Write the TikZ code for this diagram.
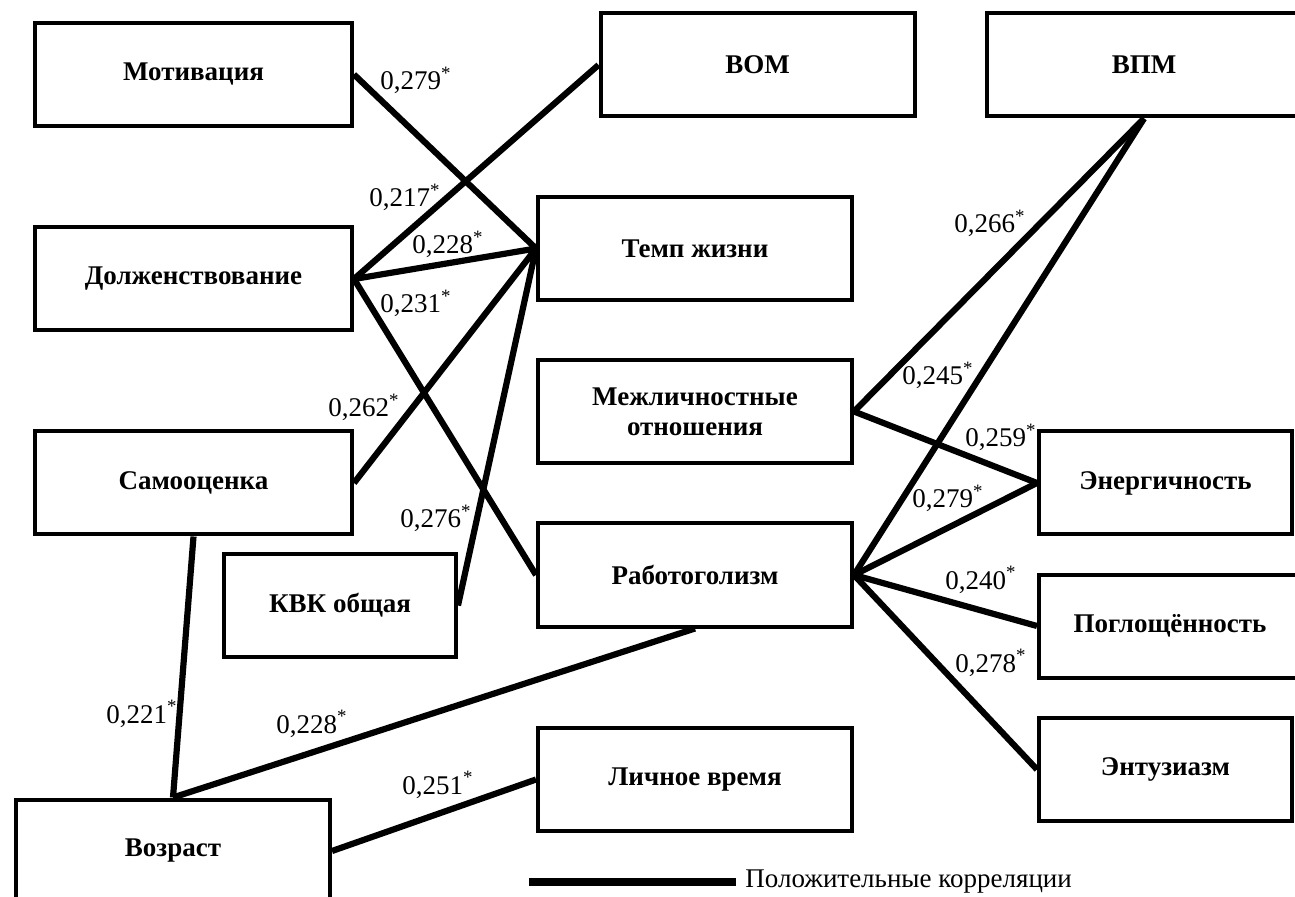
\documentclass[tikz,border=0pt]{standalone}
\usepackage{fontspec}
\setmainfont{Liberation Serif}

\tikzset{
  factor/.style={draw, line width=2pt, minimum width=157pt, minimum height=51.5pt,
                 align=center, inner sep=2pt, font=\fontsize{13.5}{15}\selectfont\bfseries},
  corr/.style={line width=3.1pt},
  coef/.style={anchor=base west, inner sep=0pt, font=\fontsize{13.5}{15}\selectfont}
}
\newcommand{\coefval}[1]{#1\textsuperscript{*}}

\begin{document}
\begin{tikzpicture}[x=0.5pt, y=-0.5pt]
        \clip (0, 0) rectangle (1295, 897);

        % Left column of factors
        \node[factor, minimum width=158.5pt] (mot) at (193.5, 74.5) {Мотивация};
        \node[factor, minimum width=158.5pt] (dolzh) at (193.5, 279) {Долженствование};
        \node[factor, minimum width=158.5pt] (samo) at (193.5, 483) {Самооценка};
        \node[factor, minimum width=116pt] (kvk) at (340, 605.5) {КВК общая};
        \node[factor] (vozr) at (173, 851) {Возраст};

        % Middle column
        \node[factor] (vom) at (757.5, 65) {ВОМ};
        \node[factor] (temp) at (695, 248.5) {Темп жизни};
        \node[factor] (mezh) at (695, 411.5) {Межличностные\\отношения};
        \node[factor] (rabot) at (695, 575) {Работоголизм};
        \node[factor] (lich) at (695, 779.5) {Личное время};

        % Right column
        \node[factor] (vpm) at (1144, 65) {ВПМ};
        \node[factor, minimum width=126.5pt] (energ) at (1165.5, 483) {Энергичность};
        \node[factor, minimum width=131pt] (pogl) at (1170, 626) {Поглощённость};
        \node[factor, minimum width=126.5pt] (entuz) at (1165.5, 769.5) {Энтузиазм};

        % Positive correlations
        \draw[corr] (mot.east) -- (temp.west);
        \draw[corr] (dolzh.east) -- (vom.west);
        \draw[corr] (dolzh.east) -- (temp.west);
        \draw[corr] (dolzh.east) -- (rabot.west);
        \draw[corr] (samo.east) -- (temp.west);
        \draw[corr] (kvk.east) -- (temp.west);
        \draw[corr] (samo.south) -- (vozr.north);
        \draw[corr] (vozr.north) -- (rabot.south);
        \draw[corr] (vozr.east) -- (lich.west);
        \draw[corr] (vpm.south) -- (mezh.east);
        \draw[corr] (vpm.south) -- (rabot.east);
        \draw[corr] (mezh.east) -- (energ.west);
        \draw[corr] (rabot.east) -- (energ.west);
        \draw[corr] (rabot.east) -- (pogl.west);
        \draw[corr] (rabot.east) -- (entuz.west);

        % Coefficients
        \node[coef] (c1) at (380, 90) {\coefval{0,279}};
        \node[coef] (c2) at (369, 207) {\coefval{0,217}};
        \node[coef] (c3) at (412, 254) {\coefval{0,228}};
        \node[coef] (c4) at (380, 313) {\coefval{0,231}};
        \node[coef] (c5) at (328, 417) {\coefval{0,262}};
        \node[coef] (c6) at (400, 528) {\coefval{0,276}};
        \node[coef] (c7) at (954, 233) {\coefval{0,266}};
        \node[coef] (c8) at (902, 385) {\coefval{0,245}};
        \node[coef] (c9) at (965, 447) {\coefval{0,259}};
        \node[coef] (c10) at (912, 508) {\coefval{0,279}};
        \node[coef] (c11) at (945, 589) {\coefval{0,240}};
        \node[coef] (c12) at (955, 672) {\coefval{0,278}};
        \node[coef] (c13) at (106, 723) {\coefval{0,221}};
        \node[coef] (c14) at (276, 733) {\coefval{0,228}};
        \node[coef] (c15) at (402, 794) {\coefval{0,251}};

        % Legend
        \coordinate (legA) at (529, 882);
        \coordinate (legB) at (736, 882);
        \draw[line width=4pt] (legA) -- (legB);
        \node[coef] (legtext) at (745, 887) {Положительные корреляции};
\end{tikzpicture}
\end{document}
